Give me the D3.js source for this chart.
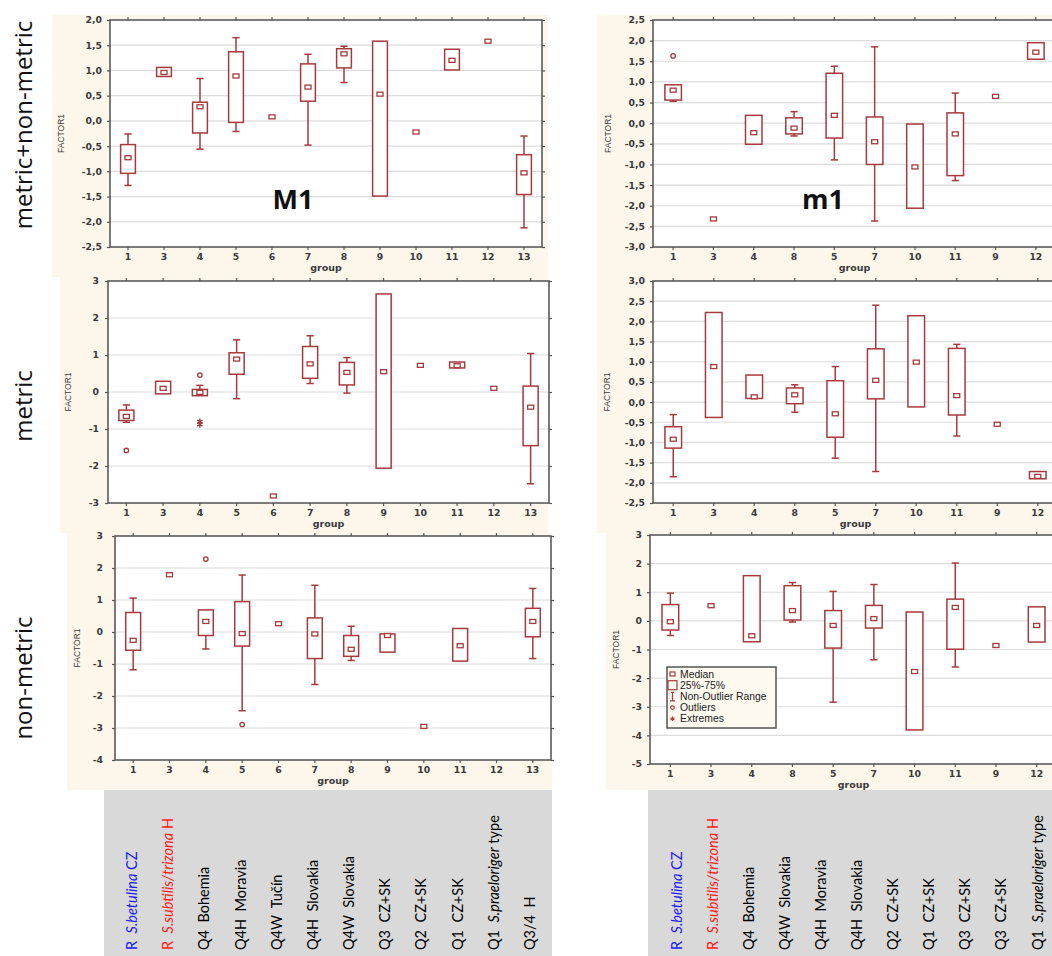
<!DOCTYPE html>
<html>
<head>
<meta charset="utf-8">
<script src="https://cdn.jsdelivr.net/npm/d3@7"></script>
<style>
  body { margin: 0; background: #fff; }
  svg { display: block; }
  text { white-space: pre; }
</style>
</head>
<body>
<script>
// Group orders on the x axes
const groupsM1 = ["1", "3", "4", "5", "6", "7", "8", "9", "10", "11", "12", "13"];
const groupsm1 = ["1", "3", "4", "8", "5", "7", "10", "11", "9", "12"];

// M1, metric+non-metric
const medA = [-0.73, 0.96, 0.28, 0.89, 0.08, 0.67, 1.33, 0.53, -0.22, 1.20, 1.58, -1.03];
const q1A  = [-1.04, 0.88, -0.24, -0.03, null, 0.39, 1.05, -1.49, null, 1.01, null, -1.46];
const q3A  = [-0.47, 1.06, 0.37, 1.37, null, 1.13, 1.43, 1.58, null, 1.42, null, -0.67];
const loA  = [-1.28, null, -0.56, -0.21, null, -0.48, 0.76, null, null, null, null, -2.12];
const hiA  = [-0.26, null, 0.84, 1.65, null, 1.32, 1.48, null, null, null, null, -0.30];
const outA = [];
const extA = [];
const ticksA = [-2.5, -2, -1.5, -1, -0.5, 0, 0.5, 1, 1.5, 2];

// m1, metric+non-metric
const medB = [0.80, -2.32, -0.23, -0.12, 0.19, -0.45, -1.06, -0.26, 0.65, 1.72];
const q1B  = [0.56, null, -0.51, -0.26, -0.36, -1.00, -2.06, -1.27, null, 1.55];
const q3B  = [0.93, null, 0.19, 0.13, 1.21, 0.15, -0.02, 0.25, null, 1.95];
const loB  = [0.53, null, null, -0.31, -0.89, -2.37, null, -1.39, null, null];
const hiB  = [null, null, null, 0.28, 1.38, 1.85, null, 0.73, null, null];
const outB = [["1", 1.63]];
const extB = [];
const ticksB = [-3, -2.5, -2, -1.5, -1, -0.5, 0, 0.5, 1, 1.5, 2, 2.5];

// M1, metric
const medC = [-0.66, 0.10, -0.01, 0.89, -2.81, 0.76, 0.53, 0.55, 0.72, 0.71, 0.10, -0.41];
const q1C  = [-0.77, -0.05, -0.10, 0.48, null, 0.37, 0.19, -2.06, null, 0.65, null, -1.45];
const q3C  = [-0.49, 0.29, 0.07, 1.06, null, 1.23, 0.80, 2.65, null, 0.81, null, 0.16];
const loC  = [-0.82, null, null, -0.18, null, 0.23, -0.03, null, null, null, null, -2.48];
const hiC  = [-0.35, null, 0.18, 1.41, null, 1.52, 0.93, null, null, null, null, 1.04];
const outC = [["1", -1.58], ["4", 0.46]];
const extC = [["4", -0.80], ["4", -0.88]];
const ticksC = [-3, -2, -1, 0, 1, 2, 3];

// m1, metric
const medD = [-0.92, 0.88, 0.13, 0.18, -0.29, 0.54, 0.99, 0.16, -0.55, -1.84];
const q1D  = [-1.14, -0.38, 0.09, -0.04, -0.87, 0.08, -0.12, -0.32, null, -1.90];
const q3D  = [-0.61, 2.22, 0.67, 0.35, 0.53, 1.32, 2.14, 1.33, null, -1.72];
const loD  = [-1.85, null, null, -0.25, -1.39, -1.72, null, -0.84, null, null];
const hiD  = [-0.31, null, null, 0.43, 0.88, 2.40, null, 1.43, null, null];
const outD = [];
const extD = [];
const ticksD = [-2.5, -2, -1.5, -1, -0.5, 0, 0.5, 1, 1.5, 2, 2.5, 3];

// M1, non-metric
const medE = [-0.26, 1.79, 0.33, -0.05, 0.26, -0.06, -0.54, -0.11, -2.95, -0.43, null, 0.33];
const q1E  = [-0.57, null, -0.11, -0.44, null, -0.83, -0.76, -0.63, null, -0.91, null, -0.15];
const q3E  = [0.61, null, 0.69, 0.95, null, 0.44, -0.11, -0.06, null, 0.11, null, 0.74];
const loE  = [-1.18, null, -0.53, -2.46, null, -1.64, -0.89, null, null, null, null, -0.83];
const hiE  = [1.06, null, null, 1.78, null, 1.46, 0.18, null, null, null, null, 1.36];
const outE = [["4", 2.28], ["5", -2.89]];
const extE = [];
const ticksE = [-4, -3, -2, -1, 0, 1, 2, 3];

// m1, non-metric
const medF = [-0.03, 0.53, -0.52, 0.36, -0.16, 0.08, -1.77, 0.47, -0.86, -0.16];
const q1F  = [-0.32, null, -0.73, 0.03, -0.95, -0.25, -3.81, -0.99, null, -0.74];
const q3F  = [0.57, null, 1.58, 1.23, 0.36, 0.54, 0.31, 0.76, null, 0.49];
const loF  = [-0.51, null, null, -0.04, -2.84, -1.36, null, -1.61, null, null];
const hiF  = [0.97, null, null, 1.34, 1.03, 1.27, null, 2.02, null, null];
const outF = [];
const extF = [];
const ticksF = [-5, -4, -3, -2, -1, 0, 1, 2, 3];

// Row names and group descriptions (*...* = italic)
const rowNames = ["metric+non-metric", "metric", "non-metric"];
const namesM1 = ["R  *S.betulina* CZ", "R  *S.subtilis/trizona* H", "Q4  Bohemia", "Q4H  Moravia",
  "Q4W  Tučín", "Q4H  Slovakia", "Q4W  Slovakia", "Q3  CZ+SK", "Q2  CZ+SK", "Q1  CZ+SK",
  "Q1  *S.praeloriger* type", "Q3/4  H"];
const namesm1 = ["R  *S.betulina* CZ", "R  *S.subtilis/trizona* H", "Q4  Bohemia", "Q4W  Slovakia",
  "Q4H  Moravia", "Q4H  Slovakia", "Q2  CZ+SK", "Q1  CZ+SK", "Q3  CZ+SK", "Q3  CZ+SK",
  "Q1  *S.praeloriger* type"];
const nameColors = ["#2020f0", "#ff1c1c"];
const legendItems = ["Median", "25%-75%", "Non-Outlier Range", "Outliers", "Extremes"];

const RED = "#a63a3c";
const CREAM = "#fcf7ea";

const loc = d3.formatLocale({ decimal: ",", thousands: ".", grouping: [3], currency: ["", ""], minus: "-" });
const fmtDec = loc.format(".1f");
const fmtInt = loc.format("d");

const svg = d3.select("body").append("svg").attr("width", 1052).attr("height", 956);

// panel backgrounds
[[52, 15, 496, 262], [60, 277, 488, 256], [67, 533, 485, 257],
 [597, 15, 455, 262], [597, 277, 455, 256], [606, 533, 446, 257]].forEach(r => {
  svg.append("rect").attr("x", r[0]).attr("y", r[1]).attr("width", r[2]).attr("height", r[3]).attr("fill", CREAM);
});
// description strips
svg.append("rect").attr("x", 104).attr("y", 790).attr("width", 448).attr("height", 166).attr("fill", "#d9d9d9");
svg.append("rect").attr("x", 648).attr("y", 790).attr("width", 404).attr("height", 166).attr("fill", "#d9d9d9");

function drawPanel(p) {
  const g = svg.append("g");
  const x = d3.scaleBand().domain(p.cats).range([p.x0, p.x1]);
  const y = d3.scaleLinear().domain(d3.extent(p.ticks)).range([p.y1, p.y0]);
  const cx = c => x(c) + x.bandwidth() / 2;
  const bw = x.bandwidth() * 0.41;
  const cap = 3.6;

  g.append("rect").attr("x", p.x0).attr("y", p.y0).attr("width", p.x1 - p.x0).attr("height", p.y1 - p.y0).attr("fill", "#fff");

  g.selectAll(".grid").data(p.ticks.slice(1, -1)).join("line")
    .attr("x1", p.x0).attr("x2", p.x1).attr("y1", d => y(d)).attr("y2", d => y(d))
    .attr("stroke", "#dcdcdc").attr("stroke-width", 1.2);

  const rows = p.cats.map((c, i) => ({ c, med: p.med[i], q1: p.q1[i], q3: p.q3[i], lo: p.lo[i], hi: p.hi[i] }));

  const marks = g.append("g").attr("stroke", RED).attr("fill", "#fff");
  const whisk = [];
  rows.forEach(r => {
    if (r.lo != null) whisk.push({ c: r.c, from: r.q1 != null ? r.q1 : r.med, to: r.lo });
    if (r.hi != null) whisk.push({ c: r.c, from: r.q3 != null ? r.q3 : r.med, to: r.hi });
  });
  marks.selectAll(".wl").data(whisk).join("line")
    .attr("x1", d => cx(d.c)).attr("x2", d => cx(d.c)).attr("y1", d => y(d.from)).attr("y2", d => y(d.to))
    .attr("stroke-width", 1.5);
  marks.selectAll(".wc").data(whisk).join("line")
    .attr("x1", d => cx(d.c) - cap).attr("x2", d => cx(d.c) + cap).attr("y1", d => y(d.to)).attr("y2", d => y(d.to))
    .attr("stroke-width", 1.5);

  marks.selectAll(".box").data(rows.filter(r => r.q1 != null)).join("rect")
    .attr("x", d => cx(d.c) - bw / 2).attr("width", bw)
    .attr("y", d => y(d.q3)).attr("height", d => y(d.q1) - y(d.q3))
    .attr("stroke-width", 1.5);

  marks.selectAll(".med").data(rows.filter(r => r.med != null)).join("rect")
    .attr("x", d => cx(d.c) - 3).attr("y", d => y(d.med) - 2).attr("width", 6).attr("height", 4)
    .attr("stroke-width", 1.3);

  marks.selectAll(".out").data(p.out).join("circle")
    .attr("cx", d => cx(d[0])).attr("cy", d => y(d[1])).attr("r", 2.2).attr("stroke-width", 1.3);

  marks.selectAll(".ext").data(p.ext).join("path")
    .attr("transform", d => `translate(${cx(d[0])},${y(d[1])})`)
    .attr("d", d3.symbol(d3.symbolAsterisk, 26)).attr("stroke-width", 1.3);

  g.append("rect").attr("x", p.x0).attr("y", p.y0).attr("width", p.x1 - p.x0).attr("height", p.y1 - p.y0)
    .attr("fill", "none").attr("stroke", "#5a5a5a").attr("stroke-width", 1.6);

  const styleAxis = a => {
    a.select(".domain").remove();
    a.selectAll("line").attr("stroke", "#555").attr("stroke-width", 1.2);
    a.selectAll("text").attr("fill", "#3a3a3a").style("font-family", "DejaVu Sans").style("font-size", "9.3px").style("font-weight", "bold");
  };
  g.append("g").attr("transform", `translate(${p.x0},0)`)
    .call(d3.axisLeft(y).tickValues(p.ticks).tickFormat(p.fmt).tickSize(3).tickPadding(p.pad)).call(styleAxis);
  g.append("g").attr("transform", `translate(${p.x1},0)`)
    .call(d3.axisRight(y).tickValues(p.ticks).tickFormat("").tickSize(3)).call(styleAxis);
  g.append("g").attr("transform", `translate(0,${p.y1})`)
    .call(d3.axisBottom(x).tickSize(3).tickPadding(3)).call(styleAxis);
  g.append("g").attr("transform", `translate(0,${p.y0})`)
    .call(d3.axisTop(x).tickFormat("").tickSize(3)).call(styleAxis);

  g.append("text").attr("transform", `translate(${p.fx},${(p.y0 + p.y1) / 2}) rotate(-90)`)
    .attr("text-anchor", "middle").attr("fill", "#3a3a3a")
    .style("font-family", "Liberation Sans").style("font-size", "8.5px").text("FACTOR1");

  g.append("text").attr("x", (p.x0 + p.x1) / 2).attr("y", p.y1 + 24).attr("text-anchor", "middle")
    .attr("fill", "#3a3a3a").style("font-family", "DejaVu Sans").style("font-size", "9.5px").style("font-weight", "bold")
    .text("group");
}

drawPanel({ cats: groupsM1, med: medA, q1: q1A, q3: q3A, lo: loA, hi: hiA, out: outA, ext: extA, ticks: ticksA,
  fmt: fmtDec, pad: 5, x0: 110, x1: 542, y0: 20, y1: 247, fx: 64 });
drawPanel({ cats: groupsm1, med: medB, q1: q1B, q3: q3B, lo: loB, hi: hiB, out: outB, ext: extB, ticks: ticksB,
  fmt: fmtDec, pad: 5, x0: 653, x1: 1056, y0: 20, y1: 247, fx: 611 });
drawPanel({ cats: groupsM1, med: medC, q1: q1C, q3: q3C, lo: loC, hi: hiC, out: outC, ext: extC, ticks: ticksC,
  fmt: fmtInt, pad: 6, x0: 108, x1: 549, y0: 281, y1: 503, fx: 71 });
drawPanel({ cats: groupsm1, med: medD, q1: q1D, q3: q3D, lo: loD, hi: hiD, out: outD, ext: extD, ticks: ticksD,
  fmt: fmtDec, pad: 5, x0: 653, x1: 1058, y0: 281, y1: 503, fx: 610 });
drawPanel({ cats: groupsM1, med: medE, q1: q1E, q3: q3E, lo: loE, hi: hiE, out: outE, ext: extE, ticks: ticksE,
  fmt: fmtInt, pad: 9, x0: 115, x1: 551, y0: 536, y1: 760, fx: 80 });
drawPanel({ cats: groupsm1, med: medF, q1: q1F, q3: q3F, lo: loF, hi: hiF, out: outF, ext: extF, ticks: ticksF,
  fmt: fmtInt, pad: 5, x0: 650, x1: 1057, y0: 535, y1: 764, fx: 619 });

// big panel titles
svg.append("text").attr("x", 293).attr("y", 209).attr("text-anchor", "middle")
  .style("font-family", "Open Sans").style("font-weight", "bold").style("font-size", "27px").attr("fill", "#111").text("M1");
svg.append("text").attr("x", 823).attr("y", 209).attr("text-anchor", "middle")
  .style("font-family", "Open Sans").style("font-weight", "bold").style("font-size", "27px").attr("fill", "#111").text("m1");

// row names
[125, 406, 678].forEach((cy, i) => {
  svg.append("text").attr("transform", `translate(32,${cy}) rotate(-90)`).attr("text-anchor", "middle")
    .style("font-family", "Open Sans").style("font-size", "24px").attr("fill", "#111").text(rowNames[i]);
});

// legend
const lg = svg.append("g");
lg.append("rect").attr("x", 667).attr("y", 667).attr("width", 109).attr("height", 61)
  .attr("fill", "#fdf9ef").attr("stroke", "#555").attr("stroke-width", 1.5);
const ly = i => 674 + i * 11.2;
const lsx = 672.5;
lg.append("rect").attr("x", lsx - 2.5).attr("y", ly(0) - 2).attr("width", 5).attr("height", 4)
  .attr("fill", "#fff").attr("stroke", RED).attr("stroke-width", 1.2);
lg.append("rect").attr("x", lsx - 4.5).attr("y", ly(1) - 4.5).attr("width", 9).attr("height", 9)
  .attr("fill", "none").attr("stroke", RED).attr("stroke-width", 1.2);
lg.append("path").attr("d", `M${lsx},${ly(2) - 4}V${ly(2) + 4.5}M${lsx - 2.5},${ly(2) + 4.5}H${lsx + 2.5}M${lsx - 1.5},${ly(2) - 4}H${lsx + 1.5}`)
  .attr("fill", "none").attr("stroke", RED).attr("stroke-width", 1.2);
lg.append("circle").attr("cx", lsx).attr("cy", ly(3)).attr("r", 1.8).attr("fill", "#fff").attr("stroke", RED).attr("stroke-width", 1.2);
lg.append("path").attr("transform", `translate(${lsx},${ly(4)})`).attr("d", d3.symbol(d3.symbolAsterisk, 14))
  .attr("stroke", RED).attr("stroke-width", 1.1);
lg.selectAll(".lt").data(legendItems).join("text")
  .attr("x", 680).attr("y", (d, i) => ly(i) + 3.6)
  .style("font-family", "Liberation Sans").style("font-size", "10.4px").attr("fill", "#222").text(d => d);

// group descriptions under the plots
function drawNames(names, x0, x1) {
  const xp = d3.scalePoint().domain(d3.range(names.length)).range([x0, x1]);
  names.forEach((nm, i) => {
    const t = svg.append("text").attr("transform", `translate(${xp(i) + 5},950) rotate(-90)`)
      .style("font-family", "Lato").style("font-size", "14.5px")
      .attr("fill", nameColors[i] || "#000");
    nm.split("*").forEach((seg, k) => {
      if (!seg) return;
      t.append("tspan").style("font-style", k % 2 ? "italic" : "normal").text(seg);
    });
  });
}
drawNames(namesM1, 132, 530);
drawNames(namesm1, 676.5, 1037.5);
</script>
</body>
</html>
